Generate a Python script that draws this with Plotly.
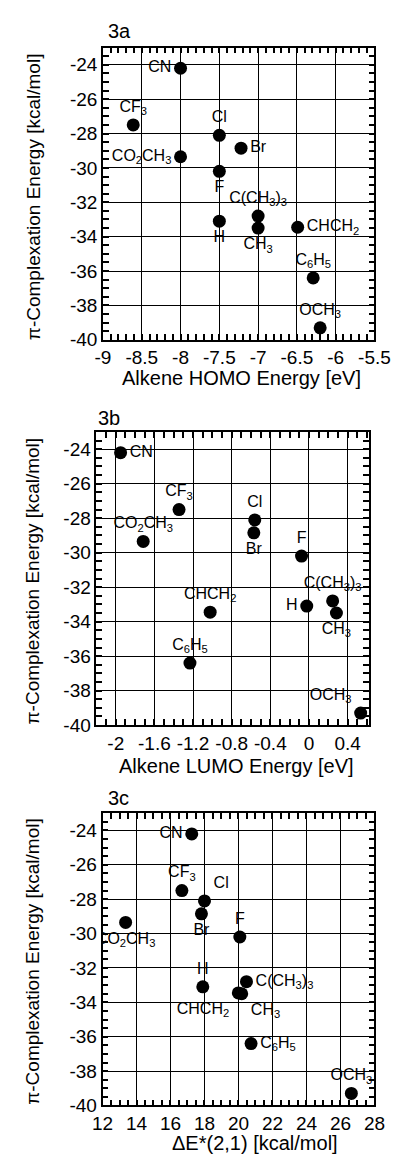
import plotly.graph_objects as go

# ---------------- data ----------------
substituents = ["CN", "CF3", "CO2CH3", "Cl", "Br", "F", "H", "C(CH3)3", "CH3", "CHCH2", "C6H5", "OCH3"]
label_html = ["CN", "CF<sub>3</sub>", "CO<sub>2</sub>CH<sub>3</sub>", "Cl", "Br", "F", "H",
              "C(CH<sub>3</sub>)<sub>3</sub>", "CH<sub>3</sub>", "CHCH<sub>2</sub>",
              "C<sub>6</sub>H<sub>5</sub>", "OCH<sub>3</sub>"]
pi_energy = [-24.2, -27.5, -29.35, -28.1, -28.85, -30.2, -33.1, -32.8, -33.5, -33.45, -36.4, -39.3]
homo_energy = [-8.0, -8.61, -8.0, -7.5, -7.22, -7.5, -7.5, -7.0, -7.0, -6.49, -6.29, -6.2]
lumo_energy = [-1.95, -1.345, -1.716, -0.561, -0.571, -0.077, -0.023, 0.245, 0.284, -1.023, -1.232, 0.535]
delta_e21 = [17.25, 16.67, 13.36, 18.0, 17.82, 20.08, 17.9, 20.47, 20.19, 19.99, 20.74, 26.64]

y_tickvals = [-40, -38, -36, -34, -32, -30, -28, -26, -24]
y_ticktext = ["-40", "-38", "-36", "-34", "-32", "-30", "-28", "-26", "-24"]
xa_tickvals = [-9, -8.5, -8, -7.5, -7, -6.5, -6, -5.5]
xa_ticktext = ["-9", "-8.5", "-8", "-7.5", "-7", "-6.5", "-6", "-5.5"]
xb_tickvals = [-2, -1.6, -1.2, -0.8, -0.4, 0, 0.4]
xb_ticktext = ["-2", "-1.6", "-1.2", "-0.8", "-0.4", "0", "0.4"]
xc_tickvals = [12, 14, 16, 18, 20, 22, 24, 26, 28]
xc_ticktext = ["12", "14", "16", "18", "20", "22", "24", "26", "28"]

panel_titles = ["3a", "3b", "3c"]
x_titles = ["Alkene HOMO Energy [eV]", "Alkene LUMO Energy [eV]", "ΔE*(2,1) [kcal/mol]"]
y_title = "π-Complexation Energy [kcal/mol]"

# ---------------- styling / layout ----------------
W, H = 403, 1157
FONT = "Liberation Sans, Arial, Helvetica, sans-serif"

# where each point label sits relative to its dot, per panel
text_pos_a = ["middle left", "top center", "middle left", "top center", "middle right",
              "bottom center", "bottom center", "top center", "bottom center",
              "middle right", "top center", "top center"]
text_pos_b = ["middle right", "top center", "top center", "top center", "bottom center",
              "top center", "middle left", "top center", "bottom center",
              "top center", "top center", "top left"]
text_pos_c = ["middle left", "top center", "bottom center", "top right", "bottom center",
              "top center", "top center", "middle right", "bottom right",
              "bottom left", "middle right", "top center"]

boxes = [(90, 381, 40, 335), (83, 375, 428, 724), (89.5, 381, 813, 1108)]
x_ranges = [[-9, -5.5], [-2.2, 0.62], [12, 28]]
y_range = [-40, -23]
x_minor_dtick = [0.1, 0.1, 0.5]
y_minor_dtick = 0.5
x_ticks = [(xa_tickvals, xa_ticktext), (xb_tickvals, xb_ticktext), (xc_tickvals, xc_ticktext)]
x_data = [homo_energy, lumo_energy, delta_e21]
text_pos = [text_pos_a, text_pos_b, text_pos_c]
title_pos = [(93, 23), (82, 414), (93, 798)]
xtitle_pos = [(239, 374), (233, 765), (253, 1146)]
ytitle_pos = [(15, 190), (15, 578), (15, 962)]

fig = go.Figure()
annotations = []

for i in range(3):
    l, r, t, b = boxes[i]
    xn = "x" if i == 0 else f"x{i+1}"
    yn = "y" if i == 0 else f"y{i+1}"
    xaxis_key = "xaxis" if i == 0 else f"xaxis{i+1}"
    yaxis_key = "yaxis" if i == 0 else f"yaxis{i+1}"

    fig.add_trace(go.Scatter(
        x=x_data[i], y=pi_energy, mode="markers+text", xaxis=xn, yaxis=yn,
        marker=dict(color="black", size=13),
        text=label_html, textposition=text_pos[i],
        textfont=dict(family=FONT, size=16, color="black"),
    ))

    axis_common = dict(
        showline=True, linecolor="black", linewidth=1.6, mirror="allticks",
        showgrid=True, gridcolor="black", gridwidth=1.1,
        tickfont=dict(family=FONT, size=19, color="black"), zeroline=False,
    )
    fig.update_layout({
        xaxis_key: dict(
            axis_common,
            domain=[l / W, r / W], anchor=yn, range=x_ranges[i],
            tickmode="array", tickvals=x_ticks[i][0], ticktext=x_ticks[i][1],
            ticks="inside", ticklen=5, tickcolor="black", tickwidth=1.5,
            minor=dict(tickmode="linear", dtick=x_minor_dtick[i], ticks="inside",
                       ticklen=6, tickcolor="black", tickwidth=1.5),
        ),
        yaxis_key: dict(
            axis_common,
            domain=[1 - b / H, 1 - t / H], anchor=xn, range=y_range,
            tickmode="array", tickvals=y_tickvals, ticktext=y_ticktext,
            ticks="inside", ticklen=5, tickcolor="black", tickwidth=1.5,
            minor=dict(tickmode="linear", dtick=y_minor_dtick, ticks="inside",
                       ticklen=6, tickcolor="black", tickwidth=1.5),
        ),
    })

    px, py = title_pos[i]
    annotations.append(dict(
        x=px / W, y=1 - py / H, xref="paper", yref="paper", text=panel_titles[i],
        showarrow=False, xanchor="left", yanchor="middle",
        font=dict(family=FONT, size=20, color="black"),
    ))
    px, py = xtitle_pos[i]
    annotations.append(dict(
        x=px / W, y=1 - py / H, xref="paper", yref="paper", text=x_titles[i],
        showarrow=False, xanchor="center", yanchor="middle",
        font=dict(family=FONT, size=20, color="black"),
    ))
    px, py = ytitle_pos[i]
    annotations.append(dict(
        x=px / W, y=1 - py / H, xref="paper", yref="paper", text=y_title,
        showarrow=False, xanchor="center", yanchor="middle", textangle=-90,
        font=dict(family=FONT, size=19, color="black"),
    ))

fig.update_layout(
    width=W, height=H, margin=dict(l=0, r=0, t=0, b=0),
    plot_bgcolor="white", showlegend=False,
    annotations=annotations,
)

fig.write_html("out.html")
